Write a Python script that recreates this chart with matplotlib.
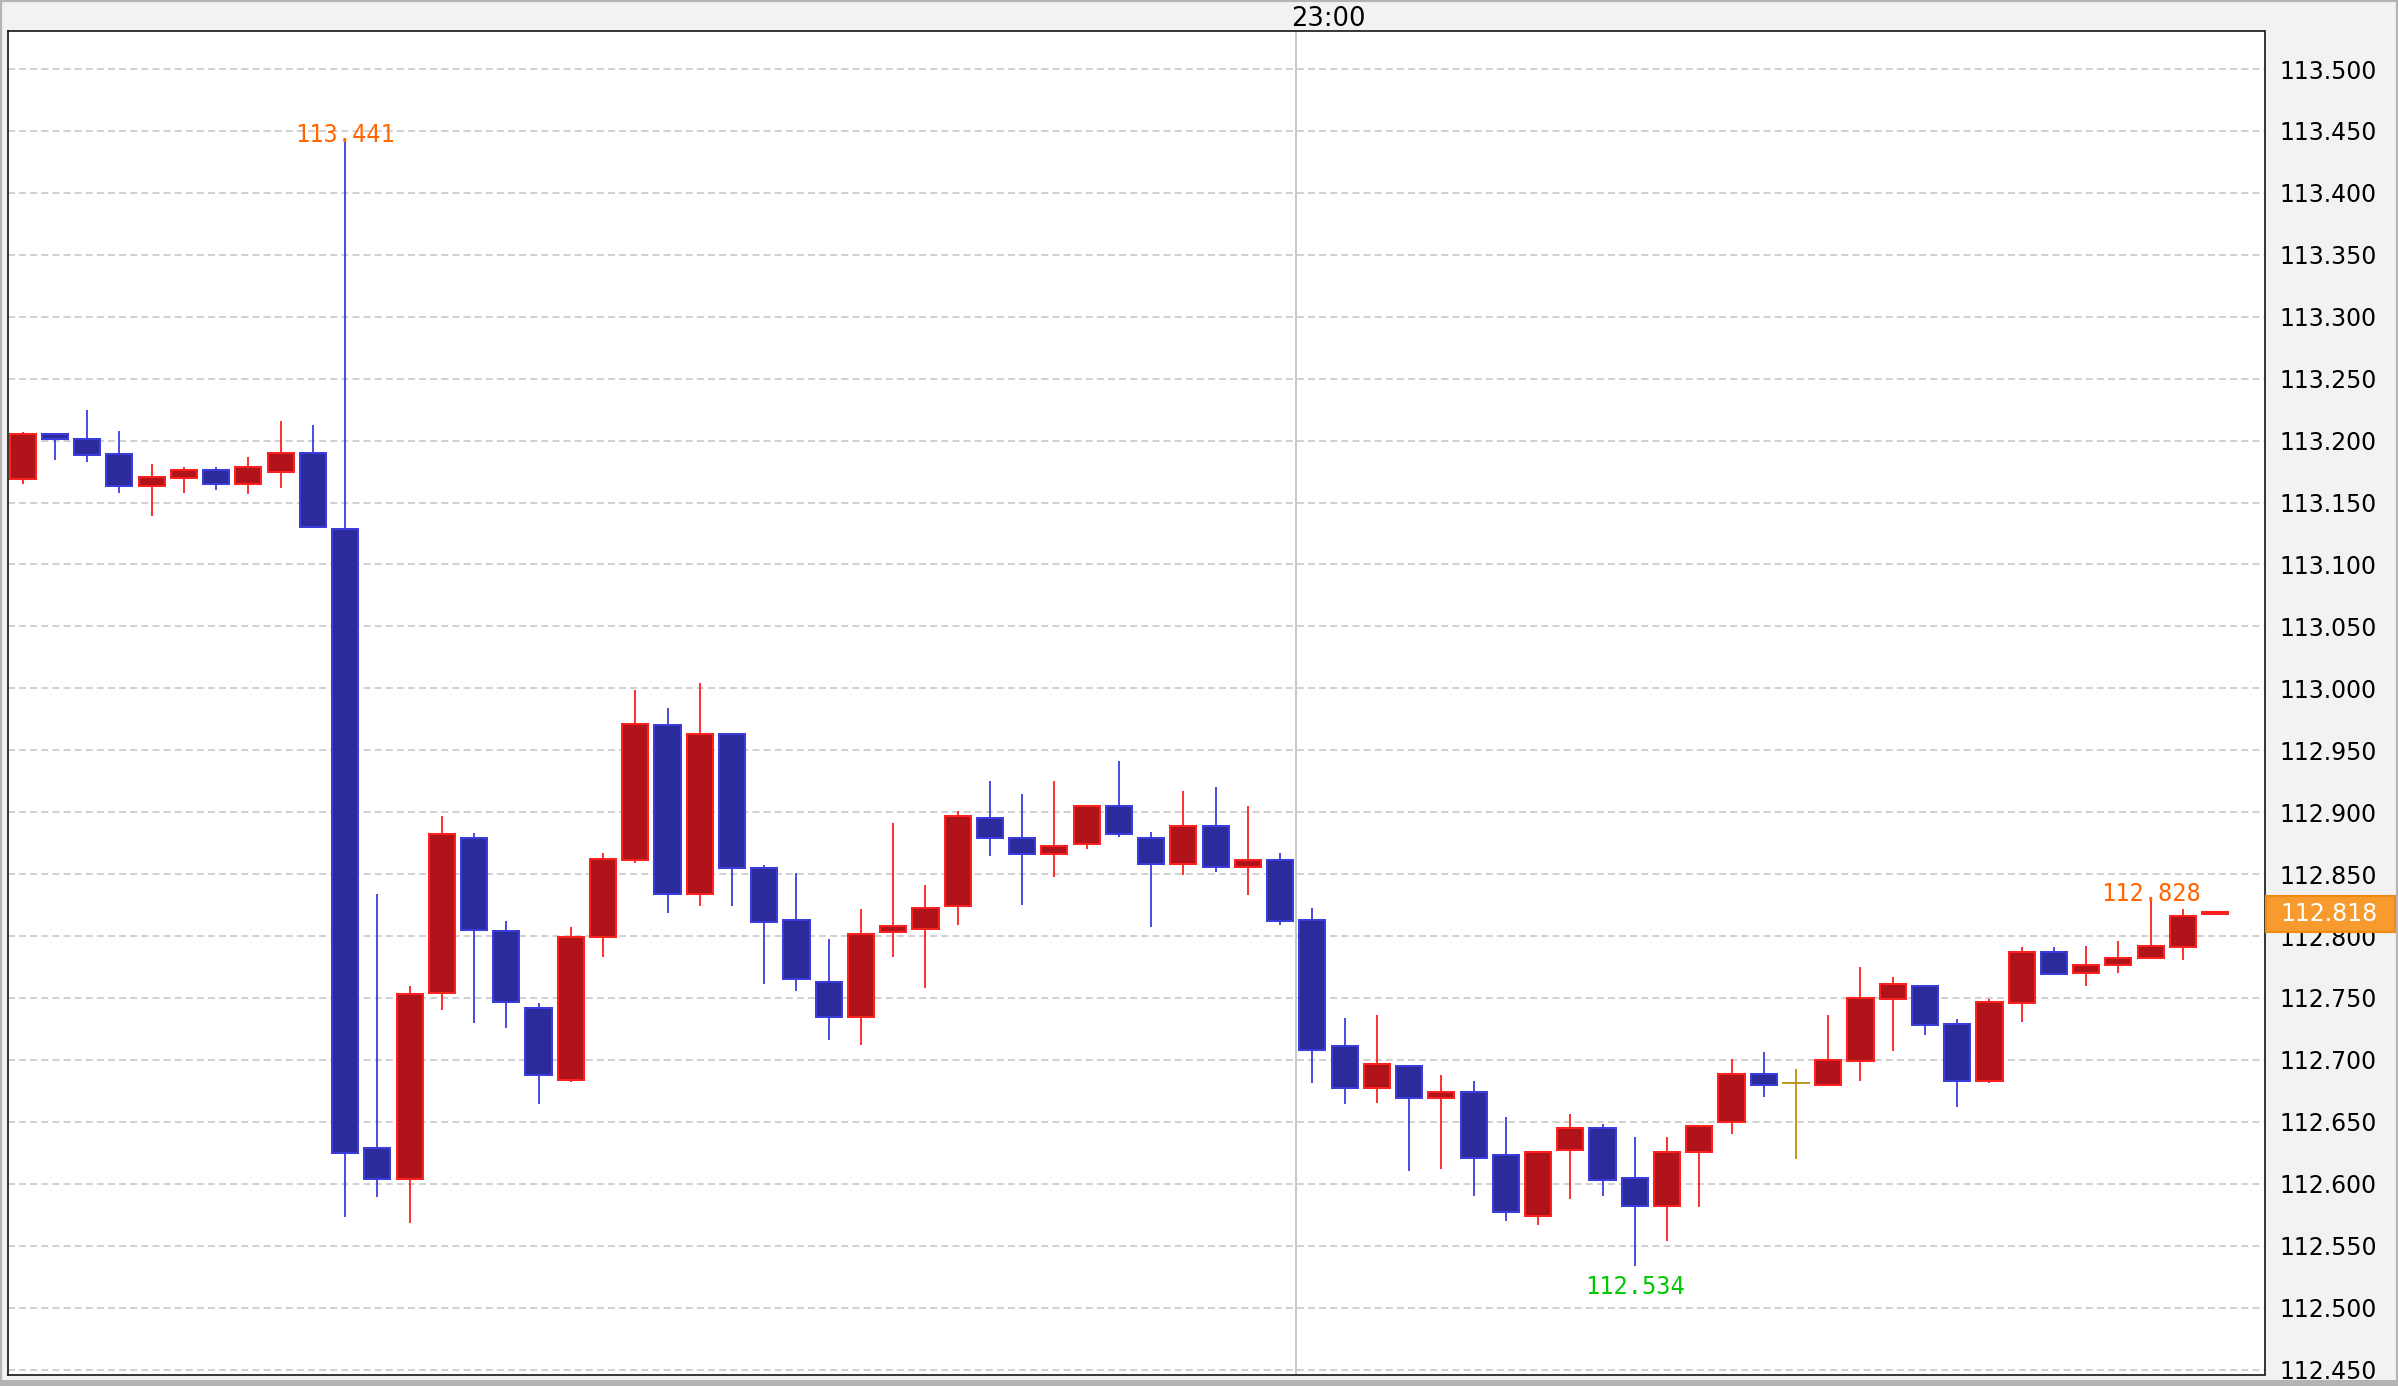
import matplotlib
matplotlib.use("Agg")
import matplotlib.pyplot as plt
import numpy as np
from matplotlib.patches import Rectangle
from matplotlib.transforms import blended_transform_factory

# OHLC bars (oldest -> newest), last one is the live bar
opens = [113.169, 113.205, 113.201, 113.189, 113.163, 113.170, 113.176, 113.165, 113.175, 113.190,
         113.129, 112.629, 112.604, 112.754, 112.879, 112.804, 112.742, 112.684, 112.799, 112.861,
         112.970, 112.834, 112.963, 112.855, 112.813, 112.763, 112.735, 112.803, 112.806, 112.824,
         112.895, 112.879, 112.866, 112.874, 112.905, 112.879, 112.858, 112.889, 112.856, 112.861,
         112.813, 112.711, 112.677, 112.695, 112.669, 112.674, 112.623, 112.574, 112.627, 112.645,
         112.605, 112.582, 112.626, 112.650, 112.689, 112.681, 112.680, 112.699, 112.749, 112.760,
         112.729, 112.683, 112.746, 112.787, 112.770, 112.777, 112.782, 112.791, 112.818]
highs = [113.207, 113.206, 113.225, 113.208, 113.181, 113.179, 113.179, 113.187, 113.216, 113.213,
         113.441, 112.834, 112.760, 112.897, 112.883, 112.812, 112.746, 112.807, 112.867, 112.999,
         112.984, 113.004, 112.963, 112.857, 112.851, 112.798, 112.822, 112.891, 112.841, 112.901,
         112.925, 112.915, 112.925, 112.905, 112.941, 112.884, 112.917, 112.920, 112.905, 112.867,
         112.823, 112.734, 112.736, 112.695, 112.688, 112.683, 112.654, 112.626, 112.656, 112.648,
         112.638, 112.638, 112.647, 112.701, 112.706, 112.693, 112.736, 112.775, 112.767, 112.760,
         112.733, 112.749, 112.791, 112.791, 112.792, 112.796, 112.828, 112.822, 112.818]
lows = [113.165, 113.184, 113.183, 113.158, 113.139, 113.158, 113.160, 113.157, 113.162, 113.130,
        112.573, 112.589, 112.568, 112.740, 112.730, 112.726, 112.664, 112.682, 112.783, 112.859,
        112.819, 112.824, 112.824, 112.761, 112.756, 112.716, 112.712, 112.783, 112.758, 112.809,
        112.865, 112.825, 112.848, 112.870, 112.880, 112.807, 112.849, 112.852, 112.833, 112.809,
        112.681, 112.664, 112.665, 112.610, 112.612, 112.590, 112.570, 112.567, 112.588, 112.590,
        112.534, 112.554, 112.581, 112.640, 112.670, 112.620, 112.680, 112.683, 112.707, 112.720,
        112.662, 112.681, 112.731, 112.769, 112.760, 112.770, 112.782, 112.781, 112.818]
closes = [113.205, 113.201, 113.188, 113.163, 113.171, 113.176, 113.165, 113.179, 113.190, 113.130,
          112.625, 112.604, 112.753, 112.882, 112.805, 112.747, 112.688, 112.799, 112.862, 112.971,
          112.834, 112.963, 112.855, 112.811, 112.765, 112.735, 112.802, 112.808, 112.823, 112.897,
          112.879, 112.866, 112.873, 112.905, 112.882, 112.858, 112.889, 112.856, 112.861, 112.812,
          112.708, 112.677, 112.697, 112.669, 112.674, 112.621, 112.577, 112.626, 112.645, 112.603,
          112.582, 112.626, 112.647, 112.689, 112.680, 112.681, 112.700, 112.750, 112.761, 112.728,
          112.683, 112.747, 112.787, 112.769, 112.777, 112.782, 112.792, 112.816, 112.818]

last_price = 112.818
recent_high_idx = 66
session_idx = 39.5      # 23:00 boundary
session_label = "23:00"
yticks = np.round(np.arange(112.45, 113.5001, 0.05), 3)

UP_FILL, UP_EDGE = "#B0141A", "#FF2020"
DN_FILL, DN_EDGE = "#2B2B9B", "#3C3CDC"
FLAT = "#B8900A"

plt.rcParams['lines.scale_dashes'] = False

fig = plt.figure(figsize=(23.98, 13.86), dpi=100, facecolor="#F2F2F2")
ax = fig.add_axes([7.5 / 2398, 1 - 1375 / 1386, (2264.5 - 7.5) / 2398, (1375 - 31) / 1386])
ax.set_facecolor("white")

o = np.array(opens); h = np.array(highs); l = np.array(lows); c = np.array(closes)
x = np.arange(len(o))
n = len(o)

fill, edge = [], []
for i in range(n):
    if i == n - 1 or c[i] > o[i]:
        fill.append(UP_FILL); edge.append(UP_EDGE)
    elif c[i] < o[i]:
        fill.append(DN_FILL); edge.append(DN_EDGE)
    else:
        fill.append(FLAT); edge.append(FLAT)

# wicks
ax.vlines(x, l, h, colors=edge, linewidth=1.3, zorder=3)

# bodies
w = 0.81
for i in range(n):
    if edge[i] == FLAT:
        ax.hlines(c[i], i - w / 2 - 0.03, i + w / 2 + 0.03, colors=FLAT, linewidth=1.3, zorder=4)
        continue
    bottom = min(o[i], c[i])
    height = max(abs(c[i] - o[i]), 0.0016)
    ax.bar(i, height, bottom=bottom, width=w, color=fill[i], edgecolor=edge[i],
           linewidth=1.45, zorder=4)

# grid
for yv in yticks:
    ax.axhline(yv, color="#C8C8C8", linewidth=1.2, linestyle=(0, (5, 3)), zorder=1)
ax.axvline(session_idx, color="#C8C8C8", linewidth=1.4, zorder=1)

ax.set_xlim(-0.47, 69.53)
ax.set_ylim(112.4456, 113.5307)
ax.set_xticks([])
ax.yaxis.tick_right()
ax.set_yticks(yticks)
ax.set_yticklabels([f"{v:.3f}" for v in yticks])
ax.tick_params(axis='y', length=0, pad=10.4, labelsize=17, labelcolor="black")
for s in ax.spines.values():
    s.set_linewidth(1.1)
    s.set_color("black")

# high / low labels
hi = int(np.argmax(h)); lo = int(np.argmin(l))
ax.annotate(f"{h[hi]:.3f}", (hi, h[hi]), xytext=(0, 0), textcoords="offset points",
            ha="center", va="baseline", color="#FF6600", fontsize=17, family="DejaVu Sans Mono")
ax.annotate(f"{l[lo]:.3f}", (lo, l[lo]), xytext=(0, -7), textcoords="offset points",
            ha="center", va="top", color="#00C800", fontsize=17, family="DejaVu Sans Mono")
ax.annotate(f"{h[recent_high_idx]:.3f}", (recent_high_idx, h[recent_high_idx]), xytext=(0, 0),
            textcoords="offset points", ha="center", va="baseline", color="#FF6600",
            fontsize=17, family="DejaVu Sans Mono")

# time label in top strip
tr = blended_transform_factory(ax.transData, fig.transFigure)
ax.text(session_idx - 0.15, 1 - 18.5 / 1386, session_label, transform=tr, ha="left",
        va="center", fontsize=18.5, color="black")

# last price box
tb = blended_transform_factory(ax.transAxes, ax.transData)
box_h = 36 / 61.9 * 0.05
ax.add_patch(Rectangle((1.0007, last_price - box_h / 2), 0.0572, box_h, transform=tb,
                       facecolor="#F79B2E", edgecolor="#F08A10", linewidth=1.5,
                       clip_on=False, zorder=10))
ax.text(1.0069, last_price, f"{last_price:.3f}", transform=tb, ha="left", va="center",
        color="white", fontsize=17, zorder=11, clip_on=False)

# outer frame
fig.add_artist(Rectangle((0, 0), 1, 1, transform=fig.transFigure, fill=False,
                         edgecolor="#B4B4B4", linewidth=3, zorder=20))
fig.add_artist(Rectangle((0, 0), 1, 6 / 1386, transform=fig.transFigure,
                         facecolor="#B4B4B4", edgecolor="none", zorder=20))

fig.savefig("out.png", dpi=100, facecolor=fig.get_facecolor())
